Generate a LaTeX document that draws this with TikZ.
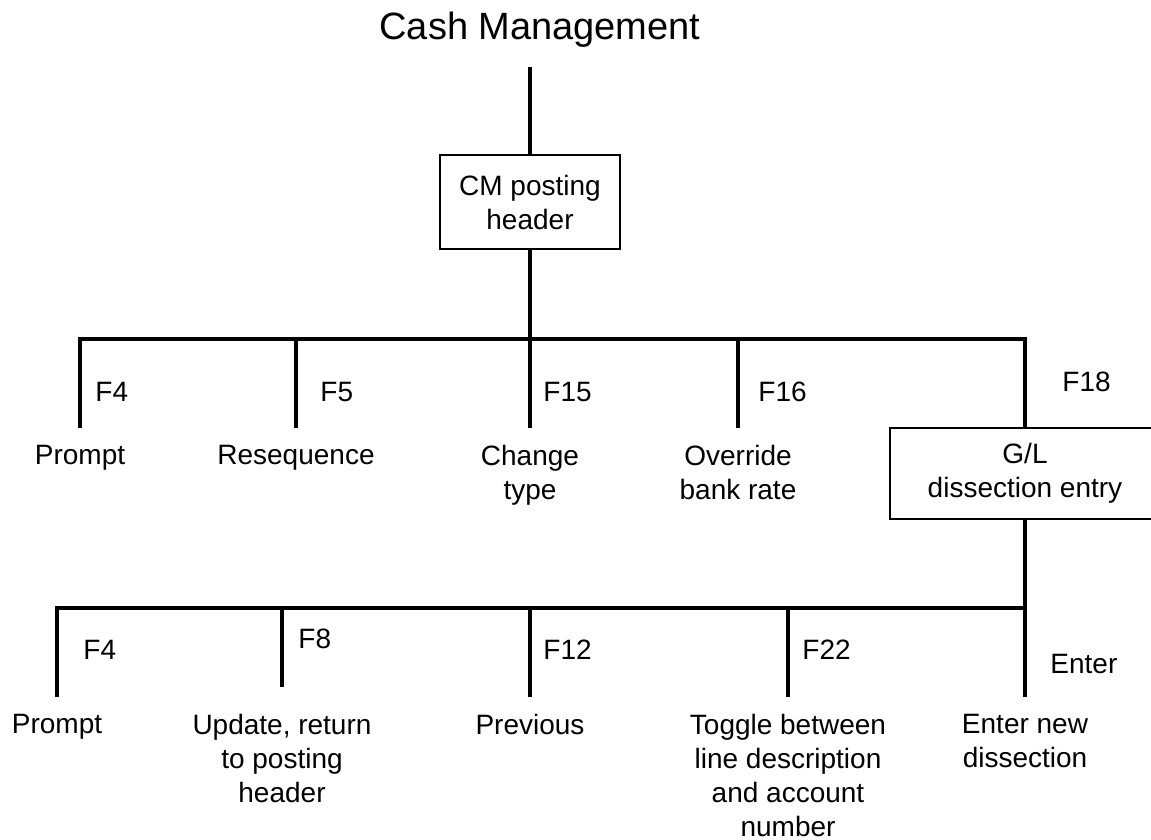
\documentclass[tikz,border=0pt]{standalone}
\usepackage{fontspec}
\setmainfont{Liberation Sans}
\begin{document}
\begin{tikzpicture}[x=0.5pt, y=-0.5pt,
    every node/.style={font=\fontsize{14}{17}\selectfont},
    stem/.style={line width=2pt},
    box/.style={draw, line width=0.9pt, align=center, inner sep=0pt},
    leaf/.style={anchor=north, align=center, inner xsep=0pt, inner ysep=8.5pt},
    key/.style={anchor=west, inner sep=0pt}]
    \useasboundingbox (0,0) rectangle (1151,840);

    % Set up junctions
    \coordinate (top) at (530,67);
    \coordinate (hub) at (530,339);
    \coordinate (split) at (1025,608);

    % Title
    \node[anchor=base, font=\fontsize{19}{23}\selectfont] (title) at (540,40) {Cash Management};

    % Draw posting header
    \node[box, minimum width=90pt, minimum height=47pt] (header) at (530,202) {CM posting\\header};
    \draw[stem] (top) -- (header.north);
    \draw[stem] (header.south) -- (hub);

    % Draw first level
    \node[box, minimum width=135pt, minimum height=45.5pt] (glentry) at (1025,473.5) {G/L\\dissection entry};
    \foreach \x/\n/\txt in {80/prompta/Prompt, 296/reseq/Resequence, 530/chtype/{Change\\type}, 738/override/{Override\\bank rate}} {
        \node[leaf] (\n) at (\x,428) {\txt};
        \draw[stem] (\n.north) -- (\n.north |- hub);
    }
    \draw[stem] (prompta.north) |- (hub) -| (glentry.north);
    \foreach \x/\y/\k in {95/392/F4, 320/392/F5, 543/392/F15, 758/392/F16, 1062/382/F18}
        \node[key] (ka\k) at (\x,\y) {\k};

    % Draw second level
    \foreach \x/\n/\txt in {57/promptb/Prompt, 282/update/{Update, return\\to posting\\header}, 530/previous/Previous, 788/toggle/{Toggle between\\line description\\and account\\number}, 1025/enternew/{Enter new\\dissection}}
        \node[leaf] (\n) at (\x,697) {\txt};
    \draw[stem] (promptb.north) |- (split);
    \draw[stem] (glentry.south) -- (enternew.north);
    \foreach \n in {previous,toggle}
        \draw[stem] (\n.north) -- (\n.north |- split);
    \draw[stem, shorten >=5pt] (update.north |- split) -- (update.north);
    \foreach \x/\y/\k in {83/650/F4, 298/639/F8, 543/650/F12, 802/650/F22, 1050/664/Enter}
        \node[key] (kb\k) at (\x,\y) {\k};
\end{tikzpicture}
\end{document}
